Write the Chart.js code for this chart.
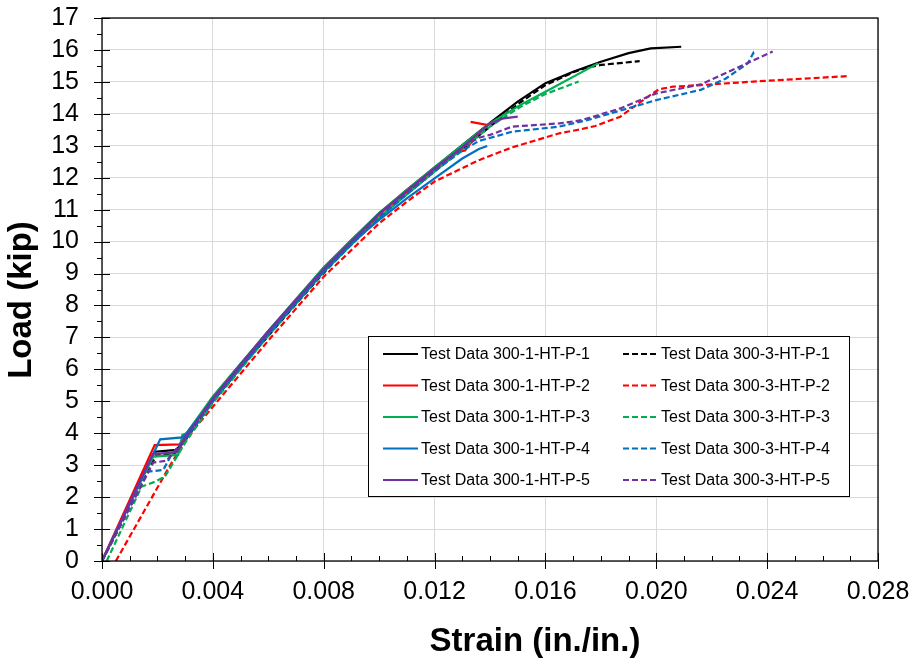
<!DOCTYPE html>
<html>
<head>
    <title>Load vs Strain</title>
    <script src="https://cdn.jsdelivr.net/npm/chart.js"></script>
    <style>
        body { margin: 0; background: #fff; }
    </style>
</head>
<body>
    <canvas id="chartjs" width="917" height="663"></canvas>

    <script>
        // strain (in./in.) and load (kip)
        const strain_1_P1 = [0, 0.0019, 0.0027, 0.003, 0.004, 0.005, 0.006, 0.007, 0.008, 0.009, 0.010, 0.011, 0.012, 0.013, 0.014, 0.015, 0.016, 0.017, 0.018, 0.019, 0.0198, 0.0209];
        const load_1_P1   = [0, 3.42, 3.48, 3.88, 5.12, 6.17, 7.18, 8.18, 9.17, 10.05, 10.88, 11.62, 12.32, 13.02, 13.72, 14.38, 14.96, 15.32, 15.63, 15.9, 16.05, 16.1];

        const strain_3_P1 = [0, 0.00195, 0.0026, 0.003, 0.004, 0.005, 0.006, 0.007, 0.008, 0.009, 0.010, 0.011, 0.012, 0.013, 0.014, 0.015, 0.016, 0.017, 0.0175, 0.018, 0.0194];
        const load_3_P1   = [0, 3.3, 3.35, 3.78, 5.0, 6.05, 7.05, 8.05, 9.02, 9.92, 10.75, 11.5, 12.2, 12.9, 13.6, 14.3, 14.9, 15.3, 15.45, 15.53, 15.65];

        const strain_1_P2 = [0, 0.0019, 0.0028, 0.003, 0.004, 0.006, 0.008, 0.010, 0.012, 0.0128, 0.0131, 0.0134, 0.0139, 0.0133];
        const load_1_P2   = [0, 3.63, 3.65, 3.9, 5.08, 7.15, 9.12, 10.85, 12.28, 12.8, 12.85, 13.2, 13.65, 13.75];

        const strain_3_P2 = [0.0005, 0.0025, 0.0032, 0.0043, 0.006, 0.008, 0.010, 0.011, 0.012, 0.0136, 0.0148, 0.0165, 0.0173, 0.0178, 0.0187, 0.0197, 0.0201, 0.0206, 0.0216, 0.0235, 0.0269];
        const load_3_P2   = [0, 3.06, 4.0, 5.14, 6.9, 8.9, 10.57, 11.25, 11.88, 12.55, 12.95, 13.39, 13.52, 13.62, 13.91, 14.54, 14.77, 14.85, 14.9, 15.01, 15.18];

        const strain_1_P3 = [0, 0.00185, 0.00275, 0.0029, 0.00305, 0.004, 0.006, 0.008, 0.010, 0.012, 0.014, 0.0151, 0.016, 0.0179];
        const load_1_P3   = [0, 3.27, 3.32, 3.95, 4.0, 5.15, 7.2, 9.2, 10.9, 12.33, 13.7, 14.28, 14.69, 15.58];

        const strain_3_P3 = [0.00017, 0.00143, 0.00191, 0.00227, 0.003, 0.004, 0.006, 0.008, 0.010, 0.012, 0.014, 0.0151, 0.016, 0.0172];
        const load_3_P3   = [0, 2.33, 2.48, 2.64, 3.7, 4.95, 7.05, 9.05, 10.75, 12.2, 13.6, 14.22, 14.62, 15.01];

        const strain_1_P4 = [0, 0.0021, 0.0029, 0.003, 0.004, 0.006, 0.008, 0.009, 0.010, 0.011, 0.012, 0.013, 0.0136, 0.0139];
        const load_1_P4   = [0, 3.81, 3.87, 3.95, 5.05, 7.1, 9.08, 9.95, 10.68, 11.35, 11.98, 12.6, 12.9, 12.99];

        const strain_3_P4 = [0, 0.00167, 0.00221, 0.0025, 0.003, 0.004, 0.006, 0.008, 0.010, 0.012, 0.013, 0.0136, 0.0148, 0.0165, 0.0175, 0.0187, 0.020, 0.0216, 0.0225, 0.0233, 0.0235, 0.02355];
        const load_3_P4   = [0, 2.8, 2.85, 3.32, 3.8, 5.0, 7.1, 9.05, 10.75, 12.2, 12.85, 13.15, 13.44, 13.6, 13.8, 14.1, 14.43, 14.75, 15.1, 15.58, 15.9, 15.8];

        const strain_1_P5 = [0, 0.00184, 0.0027, 0.003, 0.004, 0.006, 0.008, 0.010, 0.012, 0.013, 0.0136, 0.014, 0.0145, 0.0150];
        const load_1_P5   = [0, 3.35, 3.4, 3.85, 5.1, 7.2, 9.15, 10.88, 12.3, 12.95, 13.4, 13.7, 13.86, 13.91];

        const strain_3_P5 = [0, 0.00185, 0.00233, 0.003, 0.004, 0.006, 0.008, 0.010, 0.012, 0.013, 0.0136, 0.014, 0.0148, 0.0165, 0.0173, 0.0187, 0.020, 0.0216, 0.0242];
        const load_3_P5   = [0, 3.08, 3.14, 3.85, 5.05, 7.15, 9.12, 10.85, 12.25, 12.95, 13.25, 13.34, 13.6, 13.7, 13.8, 14.17, 14.64, 14.92, 15.95];

        const seriesLabels = [
            'Test Data 300-1-HT-P-1', 'Test Data 300-3-HT-P-1',
            'Test Data 300-1-HT-P-2', 'Test Data 300-3-HT-P-2',
            'Test Data 300-1-HT-P-3', 'Test Data 300-3-HT-P-3',
            'Test Data 300-1-HT-P-4', 'Test Data 300-3-HT-P-4',
            'Test Data 300-1-HT-P-5', 'Test Data 300-3-HT-P-5'
        ];
        const seriesStrain = [strain_1_P1, strain_3_P1, strain_1_P2, strain_3_P2, strain_1_P3, strain_3_P3, strain_1_P4, strain_3_P4, strain_1_P5, strain_3_P5];
        const seriesLoad = [load_1_P1, load_3_P1, load_1_P2, load_3_P2, load_1_P3, load_3_P3, load_1_P4, load_3_P4, load_1_P5, load_3_P5];
        const seriesColors = ['#000000', '#000000', '#ff0000', '#ff0000', '#00b050', '#00b050', '#0070c0', '#0070c0', '#7030a0', '#7030a0'];

        const FONT = 'Arial, "Liberation Sans", sans-serif';
        const DASH = [6, 3];

        const datasets = seriesLabels.map((label, i) => ({
            label: label,
            data: seriesStrain[i].map((x, j) => ({ x: x, y: seriesLoad[i][j] })),
            borderColor: seriesColors[i],
            backgroundColor: seriesColors[i],
            borderWidth: 2.2,
            borderDash: i % 2 === 1 ? DASH : [],
            showLine: true,
            pointRadius: 0,
            tension: 0,
            order: -i
        }));

        // frame, tick marks, axis titles and the boxed legend
        const decorPlugin = {
            id: 'decor',
            afterDraw: (chart) => {
                const ctx = chart.ctx;
                const a = chart.chartArea;
                const xs = chart.scales.x;
                const ys = chart.scales.y;
                ctx.save();

                ctx.strokeStyle = '#000';
                ctx.lineWidth = 1.3;
                ctx.strokeRect(a.left, a.top, a.right - a.left, a.bottom - a.top);

                ctx.lineWidth = 1;
                ctx.beginPath();
                for (let k = 0; k <= 28; k++) {
                    const px = Math.round(xs.getPixelForValue(k / 1000)) + 0.5;
                    if (k % 4 === 0) {
                        ctx.moveTo(px, a.bottom - 8);
                        ctx.lineTo(px, a.bottom + 8);
                    } else {
                        ctx.moveTo(px, a.bottom - 5);
                        ctx.lineTo(px, a.bottom);
                    }
                }
                for (let k = 0; k <= 34; k++) {
                    const py = Math.round(ys.getPixelForValue(k / 2)) + 0.5;
                    if (k % 2 === 0) {
                        ctx.moveTo(a.left - 8, py);
                        ctx.lineTo(a.left + 8, py);
                    } else {
                        ctx.moveTo(a.left - 5, py);
                        ctx.lineTo(a.left, py);
                    }
                }
                ctx.stroke();

                ctx.fillStyle = '#000';
                ctx.font = 'bold 33px ' + FONT;
                ctx.textAlign = 'center';
                ctx.textBaseline = 'middle';
                ctx.fillText('Strain (in./in.)', 535, 642);
                ctx.save();
                ctx.translate(22, 300);
                ctx.rotate(-Math.PI / 2);
                ctx.fillText('Load (kip)', 0, 0);
                ctx.restore();

                // legend box
                const bx = 368, by = 336, bw = 481, bh = 160;
                ctx.fillStyle = '#fff';
                ctx.fillRect(bx, by, bw, bh);
                ctx.strokeStyle = '#000';
                ctx.lineWidth = 1;
                ctx.strokeRect(bx + 0.5, by + 0.5, bw, bh);
                ctx.font = '16px ' + FONT;
                ctx.textAlign = 'left';
                chart.data.datasets.forEach((ds, i) => {
                    const col = i % 2;
                    const row = Math.floor(i / 2);
                    const lx = col === 0 ? 383 : 623;
                    const ly = 354 + row * 31.5;
                    ctx.strokeStyle = ds.borderColor;
                    ctx.lineWidth = 2;
                    ctx.setLineDash(ds.borderDash);
                    ctx.beginPath();
                    ctx.moveTo(lx, ly);
                    ctx.lineTo(lx + 35, ly);
                    ctx.stroke();
                    ctx.setLineDash([]);
                    ctx.fillStyle = '#000';
                    ctx.fillText(ds.label, lx + 38, ly + 1);
                });
                ctx.restore();
            }
        };

        const ctx = document.getElementById('chartjs').getContext('2d');
        new Chart(ctx, {
            type: 'scatter',
            data: { datasets: datasets },
            plugins: [decorPlugin],
            options: {
                responsive: false,
                animation: false,
                layout: { padding: { top: 18, right: 39, left: 0, bottom: 0 } },
                plugins: {
                    legend: { display: false },
                    tooltip: { enabled: false }
                },
                scales: {
                    x: {
                        type: 'linear',
                        min: 0,
                        max: 0.028,
                        afterFit: (scale) => {
                            scale.height = 102;
                            scale.paddingLeft = 0;
                            scale.paddingRight = 0;
                        },
                        ticks: {
                            stepSize: 0.004,
                            autoSkip: false,
                            color: '#000',
                            padding: 16,
                            maxRotation: 0,
                            font: { family: FONT, size: 25 },
                            callback: (value) => value.toFixed(3)
                        },
                        grid: { color: '#d9d9d9', lineWidth: 1, drawTicks: false },
                        border: { display: false }
                    },
                    y: {
                        type: 'linear',
                        min: 0,
                        max: 17,
                        afterFit: (scale) => {
                            scale.width = 102;
                            scale.paddingTop = 0;
                            scale.paddingBottom = 0;
                        },
                        ticks: {
                            stepSize: 1,
                            autoSkip: false,
                            color: '#000',
                            padding: 23,
                            font: { family: FONT, size: 25 }
                        },
                        grid: { color: '#d9d9d9', lineWidth: 1, drawTicks: false },
                        border: { display: false }
                    }
                }
            }
        });
    </script>
</body>
</html>
